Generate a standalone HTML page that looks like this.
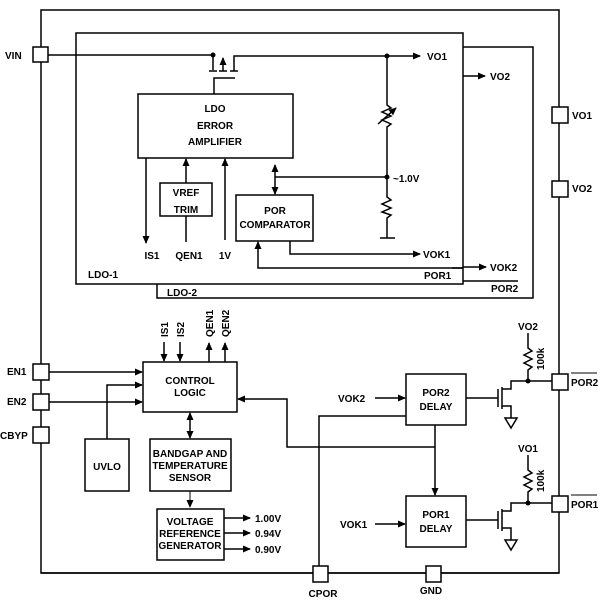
<!DOCTYPE html><html><head><style>body{margin:0;background:#fff}svg{display:block}text{font-family:"Liberation Sans",Arial,sans-serif;font-weight:bold;font-size:10px;fill:#000}</style></head><body>
<svg width="607" height="604" viewBox="0 0 607 604" xmlns="http://www.w3.org/2000/svg">
<defs><marker id="a" markerWidth="8" markerHeight="8" refX="7" refY="4" orient="auto" markerUnits="userSpaceOnUse"><path d="M0,0.5 L8,4 L0,7.5z" fill="#000"/></marker>
<marker id="s" markerWidth="8" markerHeight="8" refX="1" refY="4" orient="auto" markerUnits="userSpaceOnUse"><path d="M8,0.5 L0,4 L8,7.5z" fill="#000"/></marker></defs>
<g fill="none" stroke="#000" stroke-width="1.5">
<rect x="41" y="10" width="518" height="563"/>
<polyline points="463,47 533,47 533,298 157,298 157,284"/>
<rect x="76" y="33" width="387" height="251" fill="#fff"/>
<rect x="138" y="94" width="155" height="64"/>
<rect x="160" y="183" width="52" height="33"/>
<rect x="236" y="195" width="77" height="46"/>
<line x1="48" y1="55" x2="213" y2="55"/>
<line x1="213" y1="55" x2="213" y2="70"/><line x1="209" y1="71" x2="217" y2="71"/>
<line x1="223" y1="71" x2="223" y2="58" marker-end="url(#a)"/><line x1="219" y1="71" x2="227" y2="71"/>
<polyline points="234,71 234,56 420,56" marker-end="url(#a)"/><line x1="230" y1="71" x2="238" y2="71"/>
<polyline points="214,94 214,78 235,78"/>
<line x1="146" y1="158" x2="146" y2="243" marker-end="url(#a)"/>
<line x1="186" y1="183" x2="186" y2="159" marker-end="url(#a)"/>
<line x1="186" y1="216" x2="186" y2="242"/>
<line x1="225" y1="240" x2="225" y2="159" marker-end="url(#a)"/>
<line x1="275" y1="165" x2="275" y2="194" marker-start="url(#s)" marker-end="url(#a)"/>
<line x1="275" y1="177" x2="387" y2="177"/>
<polyline points="290,241 290,254 420,254" marker-end="url(#a)"/>
<polyline points="463,268 258,268 258,242" marker-end="url(#a)"/>
<polyline points="387,56 387,105 391,108 382,112 391,116 382,120 391,124 387,127 387,197 391,200 382,204 391,208 382,212 391,215 387,218 387,238"/>
<line x1="380" y1="238" x2="395" y2="238"/>
<line x1="378" y1="124" x2="396" y2="108" marker-end="url(#a)"/>
<line x1="463" y1="76" x2="485" y2="76" marker-end="url(#a)"/>
<line x1="463" y1="267" x2="486" y2="267" marker-end="url(#a)"/>
<line x1="463" y1="281" x2="518" y2="281"/>
<rect x="33" y="47" width="15" height="15" fill="#fff"/>
<rect x="552" y="107" width="16" height="16" fill="#fff"/>
<rect x="552" y="181" width="16" height="16" fill="#fff"/>
<rect x="143" y="362" width="94" height="50"/>
<rect x="85" y="439" width="44" height="52"/>
<rect x="150" y="439" width="81" height="52"/>
<rect x="157" y="509" width="67" height="51"/>
<rect x="406" y="374" width="60" height="51"/>
<rect x="406" y="496" width="60" height="51"/>
<line x1="49" y1="372" x2="142" y2="372" marker-end="url(#a)"/>
<line x1="49" y1="402" x2="142" y2="402" marker-end="url(#a)"/>
<polyline points="107,439 107,385 142,385" marker-end="url(#a)"/>
<line x1="164" y1="342" x2="164" y2="361" marker-end="url(#a)"/>
<line x1="180" y1="342" x2="180" y2="361" marker-end="url(#a)"/>
<line x1="209" y1="362" x2="209" y2="343" marker-end="url(#a)"/>
<line x1="225" y1="362" x2="225" y2="343" marker-end="url(#a)"/>
<line x1="190" y1="413" x2="190" y2="438" marker-start="url(#s)" marker-end="url(#a)"/>
<line x1="190" y1="491" x2="190" y2="507" stroke-width="1" marker-end="url(#a)"/>
<line x1="224" y1="518" x2="250" y2="518" marker-end="url(#a)"/>
<line x1="224" y1="533" x2="250" y2="533" marker-end="url(#a)"/>
<line x1="224" y1="549" x2="250" y2="549" marker-end="url(#a)"/>
<polyline points="435,447 287,447 287,399 238,399" marker-end="url(#a)"/>
<line x1="435" y1="425" x2="435" y2="495" marker-end="url(#a)"/>
<line x1="375" y1="398" x2="405" y2="398" marker-end="url(#a)"/>
<line x1="375" y1="524" x2="405" y2="524" marker-end="url(#a)"/>
<polyline points="406,416 319,416 319,566"/>
<g id="t"><line x1="466" y1="398" x2="498" y2="398"/><line x1="498" y1="389" x2="498" y2="407"/><line x1="502" y1="387" x2="502" y2="409"/>
<polyline points="502,389 511,389 511,381 552,381"/><polyline points="502,406 511,406 511,418"/><path d="M505,418 L517,418 L511,428z"/>
<polyline points="528,381 528,370 532,367 524,363 532,359 524,355 532,351 528,348 528,333"/></g>
<use href="#t" y="122"/>
<line x1="41" y1="573" x2="559" y2="573"/>
<rect x="33" y="364" width="16" height="16" fill="#fff"/>
<rect x="33" y="394" width="16" height="16" fill="#fff"/>
<rect x="33" y="427" width="16" height="16" fill="#fff"/>
<rect x="552" y="374" width="16" height="16" fill="#fff"/>
<rect x="552" y="496" width="16" height="16" fill="#fff"/>
<rect x="313" y="566" width="15" height="16" fill="#fff"/>
<rect x="426" y="566" width="15" height="16" fill="#fff"/>
<line x1="463" y1="268" x2="452" y2="268"/>
<line x1="571" y1="373" x2="597" y2="373" stroke-width="1"/>
<line x1="571" y1="495" x2="597" y2="495" stroke-width="1"/>
</g>
<g fill="#000"><circle cx="213" cy="55" r="2.5"/><circle cx="387" cy="56" r="2.5"/><circle cx="387" cy="177" r="2.5"/><circle cx="528" cy="381" r="2.5"/><circle cx="528" cy="503" r="2.5"/></g>
<text x="5" y="59">VIN</text>
<text x="215" y="112" text-anchor="middle">LDO</text><text x="215" y="129" text-anchor="middle">ERROR</text><text x="215" y="145" text-anchor="middle">AMPLIFIER</text>
<text x="186" y="196" text-anchor="middle">VREF</text><text x="186" y="213" text-anchor="middle">TRIM</text>
<text x="275" y="214" text-anchor="middle">POR</text><text x="275" y="228" text-anchor="middle">COMPARATOR</text>
<text x="152" y="259" text-anchor="middle">IS1</text><text x="189" y="259" text-anchor="middle">QEN1</text><text x="225" y="259" text-anchor="middle">1V</text>
<text x="88" y="278">LDO-1</text><text x="167" y="296">LDO-2</text>
<text x="427" y="60">VO1</text><text x="490" y="80">VO2</text><text x="393" y="182">~1.0V</text>
<text x="423" y="258">VOK1</text><text x="424" y="279">POR1</text>
<text x="490" y="271">VOK2</text><text x="491" y="292">POR2</text>
<text x="572" y="119">VO1</text><text x="572" y="192">VO2</text>
<text x="7" y="375">EN1</text><text x="7" y="405">EN2</text><text x="0" y="439">CBYP</text>
<text x="190" y="384" text-anchor="middle">CONTROL</text><text x="190" y="396" text-anchor="middle">LOGIC</text>
<text transform="translate(168,337) rotate(-90)">IS1</text><text transform="translate(184,337) rotate(-90)">IS2</text>
<text transform="translate(213,337) rotate(-90)">QEN1</text><text transform="translate(229,337) rotate(-90)">QEN2</text>
<text x="107" y="470" text-anchor="middle">UVLO</text>
<text x="190" y="457" text-anchor="middle">BANDGAP AND</text><text x="190" y="469" text-anchor="middle">TEMPERATURE</text><text x="190" y="481" text-anchor="middle">SENSOR</text>
<text x="190" y="525" text-anchor="middle">VOLTAGE</text><text x="190" y="537" text-anchor="middle">REFERENCE</text><text x="190" y="549" text-anchor="middle">GENERATOR</text>
<text x="255" y="522">1.00V</text><text x="255" y="537">0.94V</text><text x="255" y="553">0.90V</text>
<text x="436" y="396" text-anchor="middle">POR2</text><text x="436" y="410" text-anchor="middle">DELAY</text>
<text x="436" y="518" text-anchor="middle">POR1</text><text x="436" y="532" text-anchor="middle">DELAY</text>
<text x="338" y="402">VOK2</text><text x="340" y="528">VOK1</text>
<text x="528" y="330" text-anchor="middle">VO2</text><text x="528" y="452" text-anchor="middle">VO1</text>
<text transform="translate(544,370) rotate(-90)">100k</text><text transform="translate(544,492) rotate(-90)">100k</text>
<text x="571" y="386">POR2</text><text x="571" y="508">POR1</text>
<text x="323" y="597" text-anchor="middle">CPOR</text><text x="431" y="594" text-anchor="middle">GND</text>
</svg></body></html>
